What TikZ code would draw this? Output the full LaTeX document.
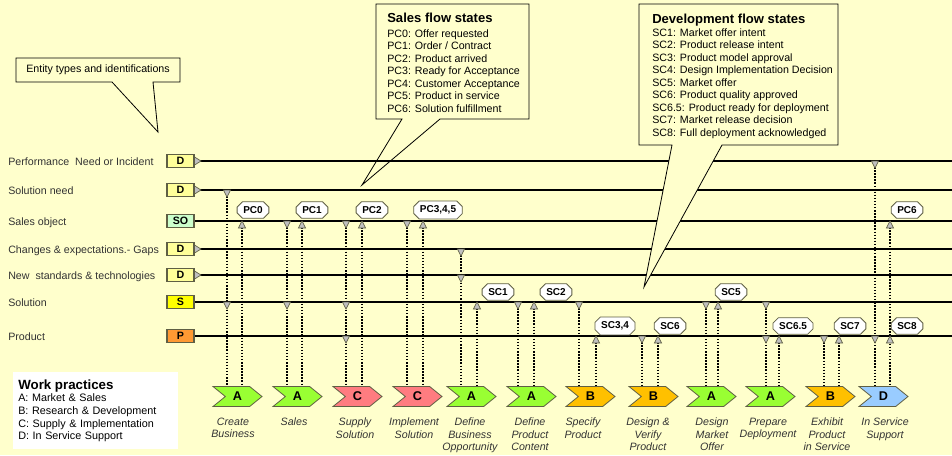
\documentclass[tikz,border=0pt]{standalone}
\usepackage{fontspec}
\setmainfont{Liberation Sans}
\usetikzlibrary{shapes.symbols,shapes.misc}

\definecolor{paper}{HTML}{FFFFCC}
\definecolor{ink}{HTML}{333333}
\definecolor{rim}{HTML}{5F5F44}
\definecolor{marker}{HTML}{C0C0C0}
\definecolor{entD}{HTML}{FFFF99}
\definecolor{entSO}{HTML}{CCFFCC}
\definecolor{entS}{HTML}{FFFF00}
\definecolor{entP}{HTML}{FF9933}
\definecolor{wpA}{HTML}{99FF33}
\definecolor{wpB}{HTML}{FFC000}
\definecolor{wpC}{HTML}{FF7C80}
\definecolor{wpD}{HTML}{99CCFF}

\begin{document}
\begin{tikzpicture}[x=0.75pt,y=-0.75pt,
  rowlabel/.style={anchor=base west, inner sep=0, text=ink, font=\fontsize{8}{9}\selectfont},
  entity/.style={draw=rim, line width=0.8pt, minimum width=20.25pt, minimum height=9.75pt, inner sep=0, font=\bfseries\fontsize{8}{9}\selectfont},
  flowline/.style={line width=1.4pt},
  dotlink/.style={line width=1.3pt, dash pattern=on 1.1pt off 1.2pt},
  tipmark/.style={fill=marker, draw=rim, line width=0.5pt, line join=miter},
  practice/.style={signal, signal to=east, signal from=west, signal pointer angle=78, draw=rim, line width=0.6pt, minimum width=36.75pt, minimum height=15pt, inner sep=0, font=\bfseries\fontsize{9.5}{10}\selectfont},
  caption/.style={anchor=north, align=center, inner sep=0, text=ink, font=\itshape\fontsize{8}{9.4}\selectfont},
  statelab/.style={chamfered rectangle, chamfered rectangle xsep=2pt, chamfered rectangle ysep=2pt, draw=rim, line width=0.6pt, fill=white, inner xsep=2.6pt, inner ysep=1.5pt, minimum height=12pt, font=\bfseries\fontsize{7.5}{8}\selectfont},
  balloon/.style={fill=paper, draw=black, line width=0.6pt, line join=miter},
  listtext/.style={anchor=north west, align=left, inner sep=0, font=\fontsize{8}{9.4}\selectfont},
  listhead/.style={anchor=base west, inner sep=0, font=\bfseries\fontsize{9.8}{10}\selectfont},
  dn/.pic={\path[tipmark] (-3.6,0) -- (3.6,0) -- (0,7) -- cycle;},
  up/.pic={\path[tipmark] (0,0) -- (3.6,7) -- (-3.6,7) -- cycle;},
  rt/.pic={\path[tipmark] (0,-4) -- (6.5,0) -- (0,4) -- cycle;},
]
% canvas
\path[fill=paper] (0,0) rectangle (952,455);
\useasboundingbox (0,0) rectangle (952,455);

% row heights
\def\yPF{161}\def\ySN{190}\def\ySO{221}\def\yCH{249}\def\yNS{275}\def\ySL{302}\def\yPR{336}

% sales flow balloon (sits behind the flow lines)
\path[balloon] (376,4) -- (529,4) -- (529,119) -- (440,119) -- (362,185) -- (402,119) -- (376,119) -- cycle;
\node[listhead] (salesT) at (387,22.5) {Sales flow states};
\node[listtext] (salesL) at (387,29) {PC0: Offer requested\\PC1: Order / Contract\\PC2: Product arrived\\PC3: Ready for Acceptance\\PC4: Customer Acceptance\\PC5: Product in service\\PC6: Solution fulfillment};

% entity balloon
\path[balloon] (16,58) -- (180,58) -- (180,82) -- (153,82) -- (158,132) -- (112,82) -- (16,82) -- cycle;
\node[inner sep=0, font=\fontsize{8}{9}\selectfont] (entT) at (98,70) {Entity types and identifications};

% entity rows
\foreach \n/\y/\f/\t/\lab/\arr in {
  1/\yPF/entD/D/{Performance~ Need or Incident}/1,
  2/\ySN/entD/D/{Solution need}/1,
  3/\ySO/entSO/SO/{Sales object}/0,
  4/\yCH/entD/D/{Changes \& expectations.- Gaps}/1,
  5/\yNS/entD/D/{New~ standards \& technologies}/1,
  6/\ySL/entS/S/{Solution}/0,
  7/\yPR/entP/P/{Product}/0}{
  \node[rowlabel] (l\n) at (8,\y+4) {\lab};
  \node[entity, fill=\f] (e\n) at (180.5,\y) {\t};
  \coordinate (r\n) at (952,\y);
  \draw[flowline] (e\n.east) -- (r\n);
  \ifnum\arr=1 \pic at (e\n.east) {rt}; \fi
}

% development flow balloon (covers the lines)
\path[balloon] (639,4) -- (838,4) -- (838,145) -- (722,145) -- (644,287) -- (672,145) -- (639,145) -- cycle;
\node[listhead] (devT) at (652,23) {Development flow states};
\node[listtext] (devL) at (652,28) {SC1: Market offer intent\\SC2: Product release intent\\SC3: Product model approval\\SC4: Design Implementation Decision\\SC5: Market offer\\SC6: Product quality approved\\SC6.5: Product ready for deployment\\SC7: Market release decision\\SC8: Full deployment acknowledged};

% work practices legend
\node[anchor=north west, fill=white, inner xsep=3.75pt, inner ysep=5pt, text width=116pt, align=left, font=\fontsize{8.1}{9.5}\selectfont, minimum height=57.75pt] (wp) at (13,372)
  {{\bfseries\fontsize{10}{9.5}\selectfont Work practices}\\A: Market \& Sales\\B: Research \& Development\\C: Supply \& Implementation\\D: In Service Support};

% work practice steps
\foreach \n/\x/\f/\t/\cx/\cap in {
  1/213/wpA/A/233/{Create\\Business},
  2/273/wpA/A/294/{Sales},
  3/333/wpC/C/355/{Supply\\Solution},
  4/393/wpC/C/414/{Implement\\Solution},
  5/447/wpA/A/470/{Define\\Business\\Opportunity},
  6/507/wpA/A/530/{Define\\Product\\Content},
  7/566/wpB/B/583/{Specify\\Product},
  8/629/wpB/B/648/{Design \&\\Verify\\Product},
  9/687/wpA/A/712/{Design\\Market\\Offer},
  10/746/wpA/A/768/{Prepare\\Deployment},
  11/806/wpB/B/827/{Exhibit\\Product\\in Service},
  12/859/wpD/D/885/{In Service\\Support}}{
  \node[practice, fill=\f] (p\n) at (\x+24.5,396.5) {\t};
  \node[caption] (c\n) at (\cx,417.5) {\cap};
}

% links: step / input x / top input row / output x / top output row
\foreach \n/\ix/\iy/\ox/\oy in {
  1/227/\ySN/242/\ySO, 2/287/\ySO/302/\ySO, 3/346/\ySO/362/\ySO, 4/407/\ySO/423/\ySO,
  5/461/\yCH/477/\ySL, 6/518/\ySL/534/\ySL, 7/579/\ySL/596/\yPR, 8/642/\yPR/658/\yPR,
  9/706/\ySL/718/\ySL, 10/766/\ySL/779/\yPR, 11/824/\yPR/839/\yPR, 12/875/\yPF/890/\ySO}{
  \coordinate (p\n i) at (\ix,\iy);
  \coordinate (p\n o) at (\ox,\oy);
  \draw[dotlink] (p\n i) -- (p\n i |- p\n.north);
  \draw[dotlink] (p\n o) -- (p\n o |- p\n.north);
}

% read markers
\foreach \x/\ys in {227/{\ySN,\ySL}, 287/{\ySO,\ySL}, 346/{\ySO,\ySL,\yPR}, 407/{\ySO},
  461/{\yCH,\yNS}, 518/{\ySL}, 579/{\ySL}, 642/{\yPR}, 706/{\ySL}, 766/{\ySL,\yPR},
  824/{\yPR}, 875/{\yPF,\yPR}}{
  \foreach \y in \ys {\pic at (\x,\y) {dn};}
}
% write markers
\foreach \x/\ys in {242/{\ySO}, 302/{\ySO}, 362/{\ySO}, 423/{\ySO}, 477/{\ySL}, 534/{\ySL},
  596/{\yPR}, 658/{\yPR}, 718/{\ySL}, 779/{\yPR}, 839/{\yPR}, 890/{\ySO,\yPR}}{
  \foreach \y in \ys {\pic at (\x,\y) {up};}
}

% flow states
\node[statelab] (pc0) at (253,210) {PC0};
\node[statelab] (pc1) at (312,210) {PC1};
\node[statelab] (pc2) at (372,210) {PC2};
\node[statelab] (pc3) at (438,210) {PC3,4,5};
\node[statelab] (pc6) at (907,210) {PC6};
\node[statelab] (sc1) at (498,292) {SC1};
\node[statelab] (sc2) at (556,292) {SC2};
\node[statelab] (sc5) at (731,292) {SC5};
\node[statelab] (sc3) at (615,326) {SC3,4};
\node[statelab] (sc6) at (670,326) {SC6};
\node[statelab] (sc65) at (793,326) {SC6.5};
\node[statelab] (sc7) at (850,326) {SC7};
\node[statelab] (sc8) at (907,326) {SC8};
\end{tikzpicture}
\end{document}
